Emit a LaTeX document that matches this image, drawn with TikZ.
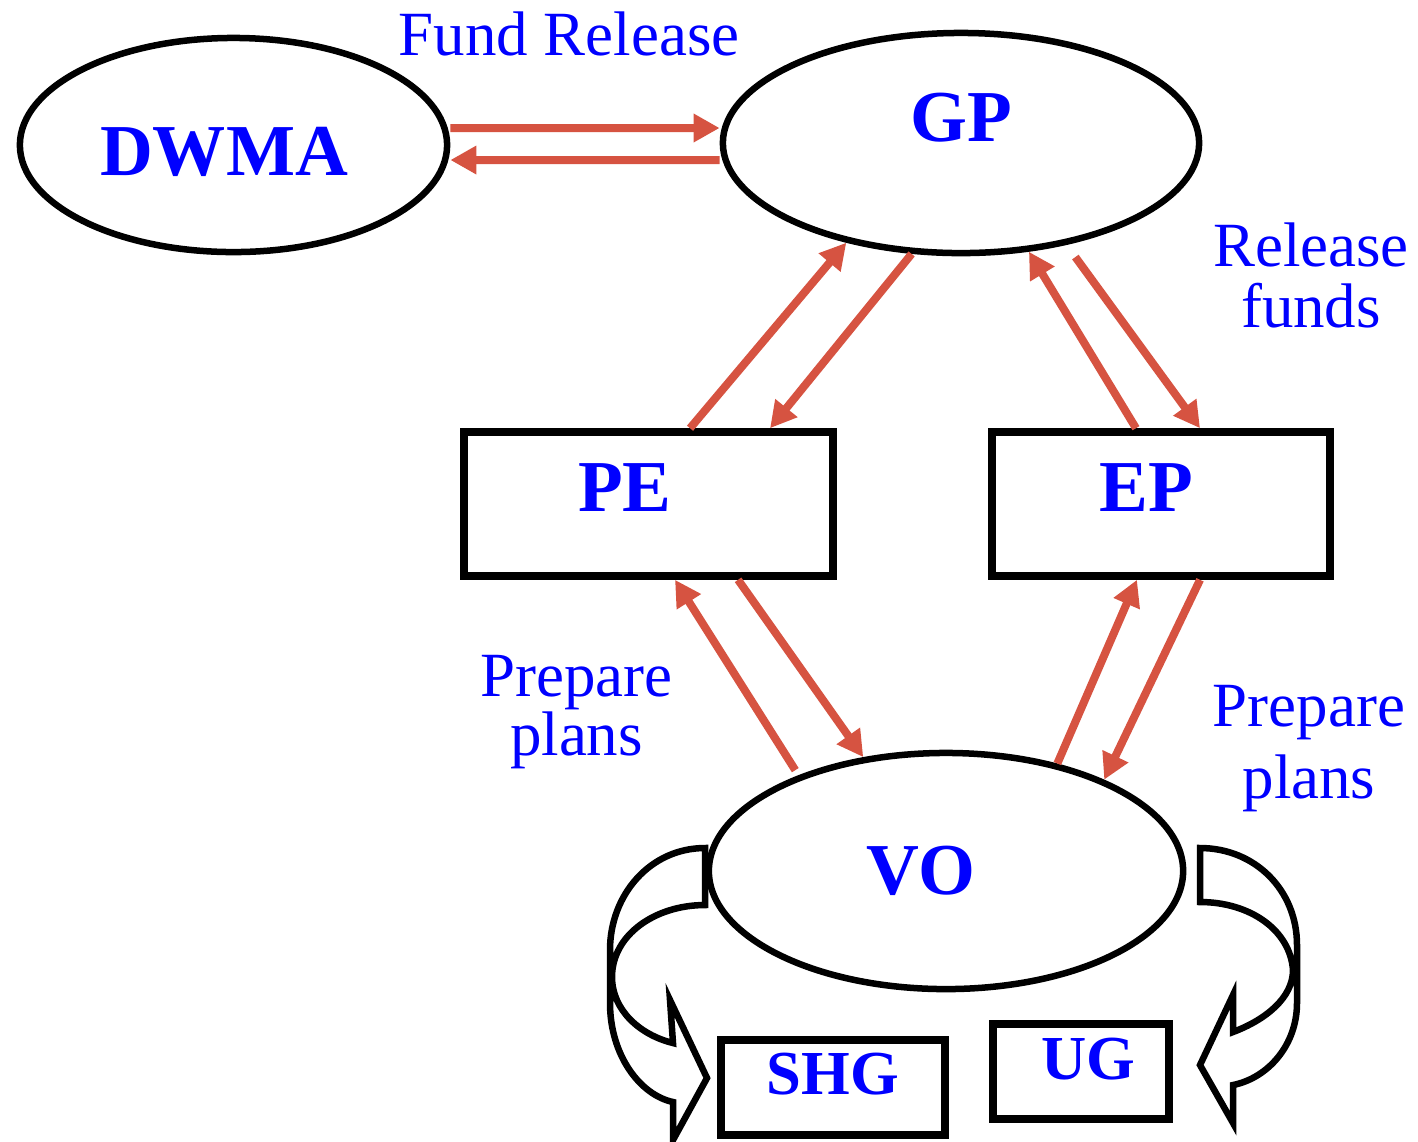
\documentclass[tikz,border=0pt]{standalone}
\usepackage{fontspec}
\setmainfont{Liberation Serif}
\usetikzlibrary{arrows.meta}
\usetikzlibrary{shapes.geometric}
\definecolor{flowred}{RGB}{214,83,65}

\begin{document}
\begin{tikzpicture}[x=0.01cm, y=-0.01cm,
  oval/.style={draw, ellipse, line width=0.065cm, inner sep=0pt},
  block/.style={draw, rectangle, line width=0.075cm, inner sep=0pt},
  headtext/.style={text=blue, font=\bfseries\fontsize{20.8}{25}\selectfont},
  smalltext/.style={text=blue, font=\bfseries\fontsize{17.8}{21}\selectfont},
  note/.style={text=blue, font=\fontsize{17.9}{17.07}\selectfont, align=center, inner sep=0pt, anchor=base},
  flow/.style={draw=flowred, line width=0.08cm, -{Triangle[length=0.26cm,width=0.27cm]}},
  loopshape/.style={draw, line width=0.065cm, fill=white, line join=miter}]
\useasboundingbox (0,0) rectangle (1418,1141);

% hollow arrows round VO
\draw[loopshape] (705,848) .. controls (650,848) and (610,895) .. (610,950) -- (610,1003)
  .. controls (610,1055) and (640,1095) .. (673,1102) -- (673,1140) -- (707,1078) -- (670,1000)
  -- (673,1043) .. controls (640,1035) and (612,1010) .. (612,977)
  .. controls (612,935) and (655,905) .. (705,905) -- cycle;
\draw[loopshape] (1200,848) .. controls (1255,848) and (1297,890) .. (1297,945) -- (1297,1003)
  .. controls (1297,1045) and (1268,1078) .. (1233,1085) -- (1233,1123) -- (1200,1065) -- (1233,995)
  -- (1233,1032) .. controls (1265,1020) and (1293,998) .. (1293,970)
  .. controls (1290,930) and (1250,902) .. (1200,902) -- cycle;

\node[oval, minimum width=4.27cm, minimum height=2.14cm, label={[headtext,xshift=-0.095cm,yshift=-0.065cm]center:DWMA}] (dwma) at (233.5,145) {};
\node[oval, minimum width=4.76cm, minimum height=2.2cm, label={[headtext,yshift=0.25cm]center:GP}] (gp) at (961,143) {};
\node[block, minimum width=3.69cm, minimum height=1.44cm, label={[headtext,xshift=-0.235cm,yshift=0.16cm]center:PE}] (pe) at (648.5,504) {};
\node[block, minimum width=3.38cm, minimum height=1.44cm, label={[headtext,xshift=-0.15cm,yshift=0.16cm]center:EP}] (ep) at (1161,504) {};
\node[oval, minimum width=4.74cm, minimum height=2.36cm, label={[headtext,xshift=-0.25cm]center:VO}] (vo) at (946,871) {};
\node[block, minimum width=2.24cm, minimum height=0.95cm, label={[smalltext,yshift=0.13cm]center:SHG}] (shg) at (833,1087.5) {};
\node[block, minimum width=1.76cm, minimum height=0.95cm, label={[smalltext,xshift=0.075cm,yshift=0.12cm]center:UG}] (ug) at (1081,1071.5) {};

\node[note] (fundrel) at (569,55) {Fund Release};
\node[note] (relfunds) at (1311,327) {Release\\funds};
\node[note] (prepleft) at (576.5,755) {Prepare\\[-0.02cm]plans};
\node[note] (prepright) at (1309,798) {Prepare\\[0.11cm]plans};

\draw[flow] ([yshift=0.17cm]dwma.east) -- ([yshift=0.15cm]gp.west);
\draw[flow] ([yshift=-0.17cm]gp.west) -- ([yshift=-0.15cm]dwma.east);
\draw[flow] ([xshift=0.415cm]pe.north) -- (gp.221);
\draw[flow] (gp.246) -- ([xshift=1.215cm]pe.north);
\draw[flow] ([xshift=-0.25cm]ep.north) -- (gp.302);
\draw[flow, shorten <=0.15cm] (gp.316) -- ([xshift=0.39cm]ep.north);
\draw[flow, shorten <=0.06cm] (vo.147) -- ([xshift=0.265cm]pe.south);
\draw[flow] ([xshift=0.895cm]pe.south) -- (vo.126);
\draw[flow] (vo.44) -- ([xshift=-0.24cm]ep.south);
\draw[flow] ([xshift=0.39cm]ep.south) -- (vo.30);
\end{tikzpicture}
\end{document}
